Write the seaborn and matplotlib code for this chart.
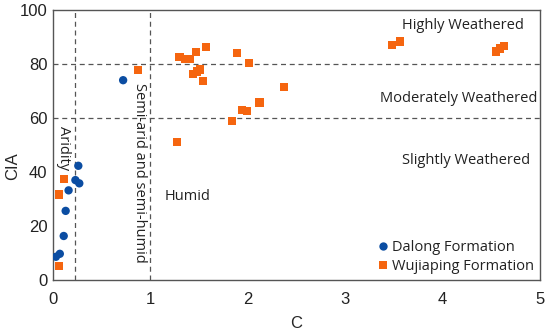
import matplotlib
matplotlib.use("Agg")
import matplotlib.pyplot as plt
import seaborn as sns
import pandas as pd

dalong_c = [0.72, 0.26, 0.23, 0.27, 0.16, 0.13, 0.11, 0.07, 0.03]
dalong_cia = [74.0, 42.3, 37.0, 35.8, 33.2, 25.6, 16.3, 9.7, 8.6]

wuji_c = [0.11, 0.065, 0.06, 0.87, 1.30, 1.36, 1.40, 1.47, 1.57, 1.44, 1.48, 1.51,
          1.54, 1.89, 2.01, 2.37, 2.12, 1.94, 1.99, 1.84, 1.27, 3.48, 3.56, 4.55,
          4.59, 4.63]
wuji_cia = [37.4, 31.7, 5.3, 77.9, 82.5, 81.9, 81.9, 84.4, 86.2, 76.4, 77.2, 78.0,
            73.6, 84.0, 80.4, 71.4, 65.8, 63.0, 62.5, 58.8, 51.0, 87.0, 88.3, 84.6,
            85.8, 86.7]

series_names = ["Dalong Formation", "Wujiaping Formation"]
x_ticks = [0, 1, 2, 3, 4, 5]
y_ticks = [0, 20, 40, 60, 80, 100]

df = pd.DataFrame({
    "C": dalong_c + wuji_c,
    "CIA": dalong_cia + wuji_cia,
    "Formation": [series_names[0]] * len(dalong_c) + [series_names[1]] * len(wuji_c),
})

sns.set_style("white")
plt.rcParams["font.family"] = ["Liberation Sans", "DejaVu Sans"]

fig = plt.figure(figsize=(5.5, 3.34), dpi=100)
ax = fig.add_axes([53 / 550, 54 / 334, 487 / 550, 270 / 334])

palette = {series_names[0]: "#0B4DA2", series_names[1]: "#F5650F"}
markers = {series_names[0]: "o", series_names[1]: "s"}
sns.scatterplot(data=df, x="C", y="CIA", hue="Formation", style="Formation",
                palette=palette, markers=markers, s=36, linewidth=0, ax=ax,
                zorder=3)

ax.set_xlim(0, 5)
ax.set_ylim(0, 100)
ax.set_xticks(x_ticks)
ax.set_yticks(y_ticks)
ax.tick_params(axis="both", length=0, labelsize=12, colors="#222222")
ax.tick_params(axis="x", pad=9)
ax.tick_params(axis="y", pad=4)

for sp in ax.spines.values():
    sp.set_color("#555555")
    sp.set_linewidth(1.0)

dash = dict(color="#555555", linestyle=(0, (4, 3)), linewidth=0.9, zorder=1)
ax.axvline(0.225, **dash)
ax.axvline(1.0, **dash)
ax.axhline(80, **dash)
ax.axhline(60, **dash)

ax.set_xlabel("C", fontsize=12)
ax.set_ylabel("CIA", fontsize=12)
ax.xaxis.set_label_coords(0.5, -0.135)
ax.yaxis.set_label_coords(-0.068, 0.42)

tf = dict(fontsize=10.5, color="#222222", family=["Open Sans", "DejaVu Sans"])
ax.text(4.83, 94.3, "Highly Weathered", ha="right", va="center", **tf)
ax.text(4.97, 67.4, "Moderately Weathered", ha="right", va="center", **tf)
ax.text(4.9, 44.3, "Slightly Weathered", ha="right", va="center", **tf)
ax.text(1.15, 31.0, "Humid", ha="left", va="center", **tf)
ax.text(0.105, 49, "Aridity", ha="center", va="center", rotation=270, **tf)
ax.text(0.885, 39.6, "Semi-arid and semi-humid", ha="center", va="center",
        rotation=270, **tf)

leg = ax.legend(loc="lower right", frameon=False, handletextpad=0.0,
                borderaxespad=0.0, labelspacing=0.3, handlelength=1.2,
                bbox_to_anchor=(1.0, 0.0),
                prop={"family": ["Open Sans", "DejaVu Sans"], "size": 10.5},
                markerscale=1.0)
for t in leg.get_texts():
    t.set_color("#222222")

fig.savefig("out.png", dpi=100)
